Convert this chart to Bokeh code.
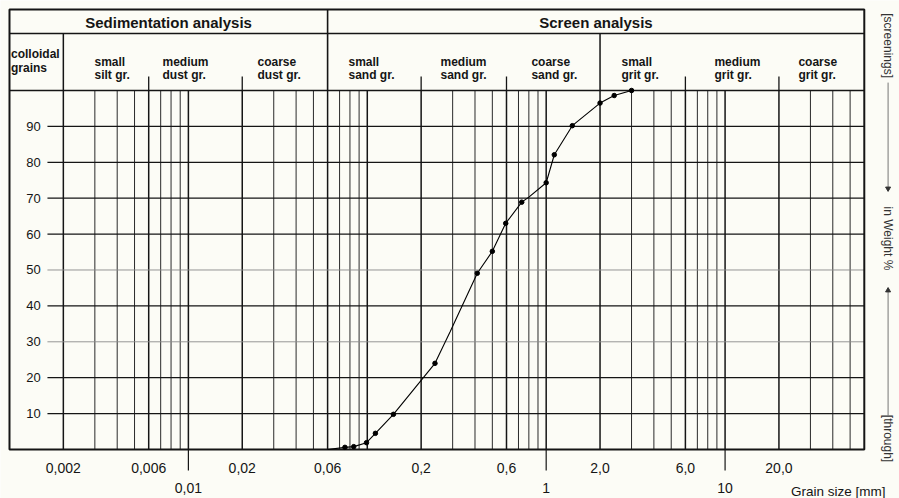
import math
from bokeh.plotting import figure
from bokeh.models import Range1d
from bokeh.core.properties import value
from bokeh.embed import file_html
from bokeh.resources import INLINE

# ---------------- data ----------------
grain_mm = [0.06, 0.075, 0.084, 0.099, 0.111, 0.14, 0.239, 0.29, 0.412, 0.5,
            0.594, 0.73, 0.8, 1.0, 1.11, 1.4, 2.0, 2.4, 3.0]
passing_pct = [0.0, 0.6, 0.8, 1.9, 4.5, 9.8, 24.0, 32.7, 49.1, 55.2,
               63.0, 68.9, 70.3, 74.3, 82.1, 90.2, 96.5, 98.6, 100.0]
sieve_dot = [False, True, True, True, True, True, True, False, True, True,
             True, True, False, True, True, True, True, True, True]

pct_ticks = [10, 20, 30, 40, 50, 60, 70, 80, 90]
pct_light = [30, 50]

size_labels_mm = [0.002, 0.006, 0.02, 0.06, 0.2, 0.6, 2, 6, 20]
size_label_texts = ["0,002", "0,006", "0,02", "0,06", "0,2", "0,6", "2,0", "6,0", "20,0"]
decade_mm = [0.01, 1, 10]
decade_texts = ["0,01", "1", "10"]

analysis_titles = ["Sedimentation analysis", "Screen analysis"]
class_names_1 = ["colloidal", "small", "medium", "coarse", "small", "medium",
                 "coarse", "small", "medium", "coarse"]
class_names_2 = ["grains", "silt gr.", "dust gr.", "dust gr.", "sand gr.", "sand gr.",
                 "sand gr.", "grit gr.", "grit gr.", "grit gr."]

# log grid of the chart: 1..9 x 10^k between 0.001 and 60 mm
grid_mm = [m * 10.0 ** e for e in range(-3, 2) for m in range(1, 10)]
grid_mm = [g for g in grid_mm if 0.0015 < g < 55]
bold_grid_mm = [0.002, 0.006, 0.01, 0.02, 0.06, 0.1, 0.2, 0.6, 1.0, 2.0, 6.0, 10.0, 20.0]

# ---------------- layout ----------------
BG = "#fcfcf6"
INK = "#151515"
FONT = value("Liberation Sans")
X_MIN, X_MAX = 0.0008907, 94.4
Y_MIN, Y_MAX = -13.65, 125.07
BOX_L, BOX_R = 0.001, 60
BOX_TOP = 122.56
ROW1_BOTTOM = 115.88
TICK_TOP = 103.9
SPLIT_MM = 0.06
ROW2_DIVIDERS = [0.002, 2.0]
ROW2_TICKS = [0.006, 0.02, 0.2, 0.6, 6, 20]
HGRID_START = 0.00163

p = figure(width=899, height=498, x_axis_type="log",
           x_range=Range1d(X_MIN, X_MAX), y_range=Range1d(Y_MIN, Y_MAX),
           output_backend="svg", toolbar_location=None,
           x_axis_location=None, y_axis_location=None, min_border=0,
           background_fill_color=BG, border_fill_color=BG,
           outline_line_color=None)
try:
    p.grid.visible = False
except Exception:
    pass

# vertical grid lines
def _is_bold(g):
    return any(abs(g - b) / b < 1e-6 for b in bold_grid_mm)

thin = [g for g in grid_mm if not _is_bold(g)]
thick = [g for g in grid_mm if _is_bold(g)]
p.segment(x0=thin, y0=[0] * len(thin), x1=thin, y1=[100] * len(thin),
          line_color="#2a2a2a", line_width=1.0)
p.segment(x0=thick, y0=[0] * len(thick), x1=thick, y1=[100] * len(thick),
          line_color=INK, line_width=1.5)

# horizontal grid lines
dark_h = [v for v in pct_ticks if v not in pct_light]
p.segment(x0=[HGRID_START] * len(dark_h), y0=dark_h, x1=[BOX_R] * len(dark_h), y1=dark_h,
          line_color=INK, line_width=1.2)
p.segment(x0=[HGRID_START] * len(pct_light), y0=pct_light, x1=[BOX_R] * len(pct_light),
          y1=pct_light, line_color="#8a8a8a", line_width=0.9)

# header structure
p.segment(x0=[BOX_L, BOX_L], y0=[100, ROW1_BOTTOM], x1=[BOX_R, BOX_R], y1=[100, ROW1_BOTTOM],
          line_color=INK, line_width=1.6)
p.segment(x0=[SPLIT_MM], y0=[100], x1=[SPLIT_MM], y1=[BOX_TOP], line_color=INK, line_width=1.6)
p.segment(x0=ROW2_DIVIDERS, y0=[100] * 2, x1=ROW2_DIVIDERS, y1=[ROW1_BOTTOM] * 2,
          line_color=INK, line_width=1.5)
p.segment(x0=ROW2_TICKS, y0=[100] * len(ROW2_TICKS), x1=ROW2_TICKS,
          y1=[TICK_TOP] * len(ROW2_TICKS), line_color=INK, line_width=1.3)
p.quad(left=[BOX_L], right=[BOX_R], bottom=[0], top=[BOX_TOP], fill_color=None,
       line_color=INK, line_width=2)

# header texts
p.text(x=[0.00775, 1.898], y=[118.94, 118.94], text=analysis_titles,
       text_font=FONT, text_font_size="15px", text_font_style="bold",
       text_align="center", text_baseline="middle", text_color=INK)
class_x = [0.00102, 0.002986, 0.007164, 0.02433, 0.0785, 0.2565, 0.827, 2.635, 8.72, 25.7]
row_a = [110.3] + [107.8] * 9
row_b = [106.4] + [104.2] * 9
p.text(x=class_x, y=row_a, text=class_names_1, text_font=FONT, text_font_size="12px",
       text_font_style="bold", text_align="left", text_baseline="middle", text_color=INK)
p.text(x=class_x, y=row_b, text=class_names_2, text_font=FONT, text_font_size="12px",
       text_font_style="bold", text_align="left", text_baseline="middle", text_color=INK)

# percentage labels inside the first column
p.text(x=[0.001362] * len(pct_ticks), y=pct_ticks, text=[str(v) for v in pct_ticks],
       text_font=FONT, text_font_size="13px", text_align="center",
       text_baseline="middle", text_color=INK)

# grain-size labels below the chart
p.text(x=size_labels_mm, y=[-5.29] * len(size_labels_mm), text=size_label_texts,
       text_font=FONT, text_font_size="14px", text_align="center",
       text_baseline="middle", text_color=INK)
p.segment(x0=decade_mm, y0=[0] * 3, x1=decade_mm, y1=[-5.85] * 3,
          line_color=INK, line_width=1.2)
p.text(x=decade_mm, y=[-10.86] * 3, text=decade_texts, text_font=FONT,
       text_font_size="14px", text_align="center", text_baseline="middle", text_color=INK)
p.text(x=[78.8], y=[-11.7], text=["Grain size [mm]"], text_font=FONT,
       text_font_size="13.5px", text_align="right", text_baseline="middle", text_color=INK)

# right-hand rotated caption
RX = 81.5
p.text(x=[RX, RX, RX], y=[112.5, 58.8, 3.06],
       text=["[screenings]", "in Weight %", "[through]"], angle=-math.pi / 2,
       text_font=FONT, text_font_size="12px", text_align="center",
       text_baseline="middle", text_color="#333333")
p.segment(x0=[RX, RX], y0=[102.2, 44.3], x1=[RX, RX], y1=[72.7, 9.5],
          line_color="#555555", line_width=0.8)
p.scatter(x=[RX, RX], y=[72.7, 44.3], marker="triangle", angle=[math.pi, 0.0],
          size=5, color="#333333")

# the grading curve
p.line(grain_mm, passing_pct, line_color="black", line_width=1.1)
dot_x = [g for g, d in zip(grain_mm, sieve_dot) if d]
dot_y = [v for v, d in zip(passing_pct, sieve_dot) if d]
p.scatter(dot_x, dot_y, marker="circle", size=4.5, color="black")

open("out.html", "w").write(file_html(p, INLINE))
